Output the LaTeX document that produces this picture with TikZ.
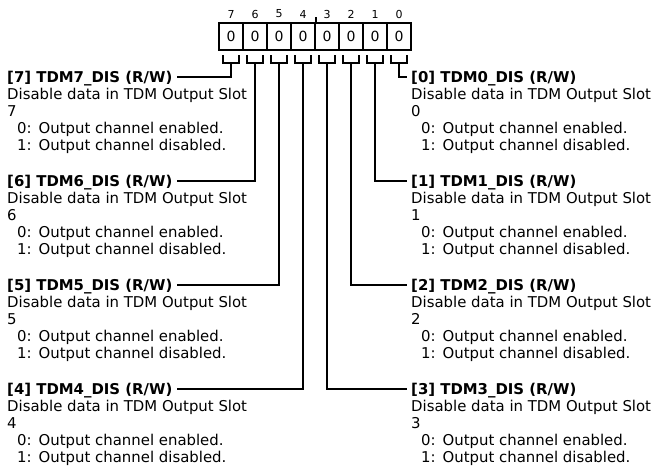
\documentclass[tikz,border=0pt]{standalone}
\usepackage{fontspec}
\setmainfont{DejaVu Sans}
\usetikzlibrary{calc}
\newcommand\mkblk[3]{% #1 bit, #2 text x, #3 title baseline
  \node[ttl] (t#1) at (#2-4,#3) {[#1] TDM#1\_DIS (R/W)};
  \node[txt] (d#1) at (#2,#3+17) {Disable data in TDM Output Slot};
  \node[txt] (n#1) at (#2,#3+34) {#1};
  \node[txt] (z#1) at (#2+10,#3+51) {0:\hspace{7pt}Output channel enabled.};
  \node[txt] (o#1) at (#2+10,#3+68) {1:\hspace{7pt}Output channel disabled.};
}
\begin{document}
\begin{tikzpicture}[x=1pt,y=-1pt,
  cell/.style={draw, line width=2pt, minimum width=24pt, minimum height=27pt, inner sep=0pt, font=\fontsize{14}{16}\selectfont},
  bitno/.style={inner sep=0pt, font=\fontsize{11}{13}\selectfont},
  ttl/.style={anchor=base west, inner xsep=4pt, inner ysep=0pt, text height=10.9pt, text depth=0pt, font=\fontsize{14.9}{17}\selectfont\bfseries},
  txt/.style={anchor=base west, inner sep=0pt, font=\fontsize{14.9}{17}\selectfont},
  wire/.style={line width=2pt},
]
\useasboundingbox (0,0) rectangle (651,467);
% register cells
\foreach \b in {7,...,0}{
  \node[cell] (c\b) at ({231+24*(7-\b)},36.5) {0};
  \node[bitno] (h\b) at ({231+24*(7-\b)},14) {\b};
  \draw[wire] ($(c\b.south)+(-8,4)$) -- ++(0,8) -- ++(16,0) -- ++(0,-8);
  \coordinate (s\b) at ($(c\b.south)+(0,12)$);
}
\draw[line width=1.6pt] (c4.north east) -- ++(0,-5);
% blocks
\mkblk{7}{7}{82.5}
\mkblk{6}{7}{186.5}
\mkblk{5}{7}{290.5}
\mkblk{4}{7}{394.5}
\mkblk{0}{411}{82.5}
\mkblk{1}{411}{186.5}
\mkblk{2}{411}{290.5}
\mkblk{3}{411}{394.5}
% connectors
\foreach \b in {7,6,5,4}{ \draw[wire] (s\b) |- (t\b.east); }
\foreach \b in {0,1,2,3}{ \draw[wire] (s\b) |- (t\b.west); }
\end{tikzpicture}
\end{document}
